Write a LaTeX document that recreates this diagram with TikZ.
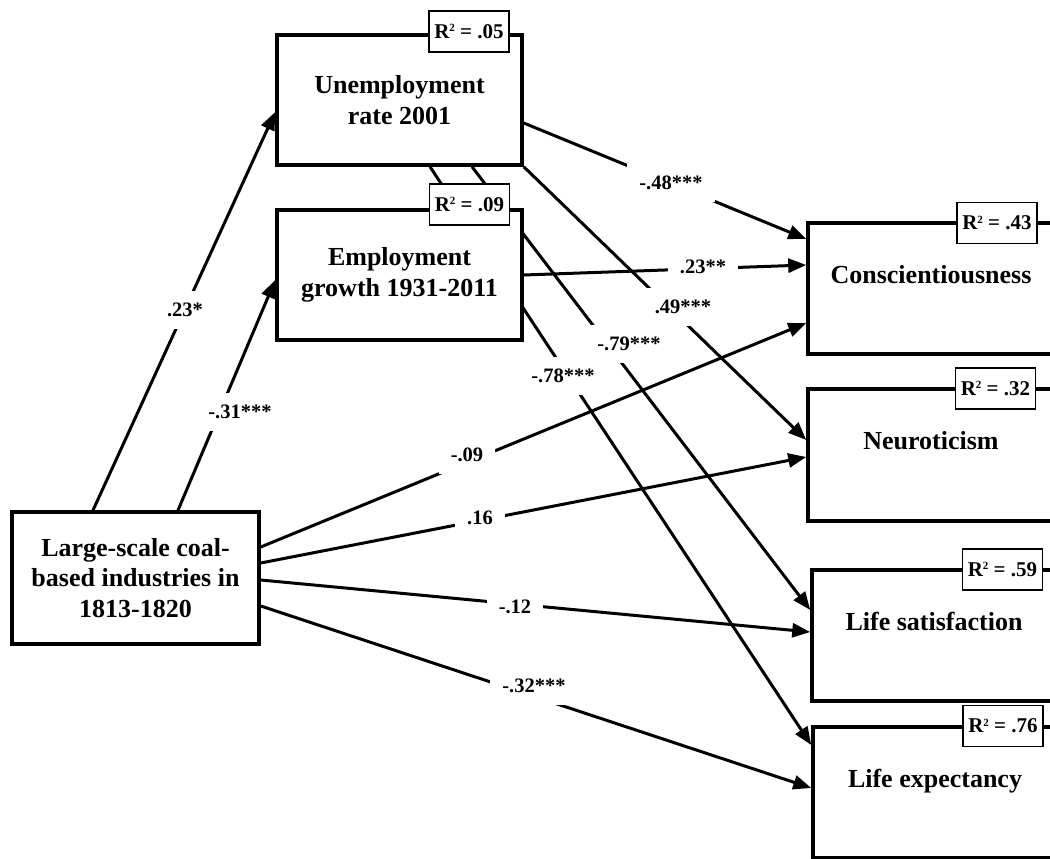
\documentclass[tikz,border=0pt]{standalone}
\usepackage{fontspec}
\setmainfont{Liberation Serif}
\usetikzlibrary{arrows.meta,backgrounds}
\newcommand{\Rtwo}[1]{R\raisebox{6.5pt}{\fontsize{11}{11}\selectfont 2} = #1}
\begin{document}
\begin{tikzpicture}[x=1pt,y=-1pt,
  box/.style={draw, line width=3.5pt, fill=white, rectangle, inner sep=0pt,
    font=\bfseries\fontsize{26}{30.5}\selectfont, align=center},
  lbl/.style={anchor=base, yshift=-62.5pt, font=\bfseries\fontsize{26}{30.5}\selectfont},
  rsq/.style={draw, line width=1.3pt, fill=white, minimum width=80pt, minimum height=41pt,
    inner sep=0pt, font=\bfseries\fontsize{21}{21}\selectfont},
  coef/.style={fill=white, inner xsep=12pt, inner ysep=12pt,
    font=\bfseries\fontsize{20.5}{20.5}\selectfont},
  arr/.style={line width=3pt, -{Triangle[length=18pt,width=14pt]}}
]
\path[use as bounding box] (0,0) rectangle (1050,859);
\clip (0,0) rectangle (1050,859);

% boxes
\node[box, minimum width=247pt, minimum height=132pt] (L) at (135.5,578)
  {Large-scale coal-\\based industries in\\1813-1820};
\node[box, minimum width=245pt, minimum height=130pt] (U) at (399.5,100)
  {Unemployment\\rate 2001};
\node[box, minimum width=245pt, minimum height=130pt] (E) at (399.5,275)
  {Employment\\growth 1931-2011};
\node[box, minimum width=246pt, minimum height=131pt,
  label={[lbl]north:Conscientiousness}] (C) at (931,288.5) {};
\node[box, minimum width=246pt, minimum height=132pt,
  label={[lbl]north:Neuroticism}] (N) at (931,455) {};
\node[box, minimum width=244pt, minimum height=131pt,
  label={[lbl]north:Life satisfaction}] (LS) at (934,635.5) {};
\node[box, minimum width=244pt, minimum height=131pt,
  label={[lbl]north:Life expectancy}] (LE) at (935,792.5) {};

% R^2 boxes
\node[rsq] (Ur) at (469,31.5) {\Rtwo{.05}};
\node[rsq] (Er) at (469.5,204.5) {\Rtwo{.09}};
\node[rsq] (Cr) at (997,223) {\Rtwo{.43}};
\node[rsq] (Nr) at (995.5,388.5) {\Rtwo{.32}};
\node[rsq] (LSr) at (1002.5,569.5) {\Rtwo{.59}};
\node[rsq] (LEr) at (1003,726) {\Rtwo{.76}};

% paths
\begin{scope}[on background layer]
\draw[arr] (L.north -| 93,0) -- (U.west |- 0,112);
\draw[arr] (L.north -| 178,0) -- (E.west |- 0,280);
\draw[arr] (U.east |- 0,123) -- (C.west |- 0,239);
\draw[arr] (U.south east) -- (N.west |- 0,440);
\draw[arr] (U.south -| 472,0) -- (LS.west |- 0,610);
\draw[arr] (U.south -| 430,0) -- (LE.west |- 0,745);
\draw[arr] (E.east |- 0,275) -- (C.west |- 0,265);
\draw[arr] (L.east |- 0,547) -- (C.west |- 0,323);
\draw[arr] (L.east |- 0,563) -- (N.west |- 0,457);
\draw[arr] (L.east |- 0,580) -- (LS.west |- 0,632);
\draw[arr] (L.east |- 0,606) -- (LE.west |- 0,788);
\end{scope}

% coefficients
\node[coef] (k1) at (185,310) {.23*};
\node[coef] (k2) at (240,412) {-.31***};
\node[coef] (k3) at (671,183) {-.48***};
\node[coef] (k4) at (703,267) {.23**};
\node[coef] (k5) at (683,307) {.49***};
\node[coef] (k6) at (629,344) {-.79***};
\node[coef] (k7) at (563,376) {-.78***};
\node[coef] (k8) at (467,455) {-.09};
\node[coef] (k9) at (480,518) {.16};
\node[coef] (k10) at (515,607) {-.12};
\node[coef] (k11) at (534,686) {-.32***};
\end{tikzpicture}
\end{document}
